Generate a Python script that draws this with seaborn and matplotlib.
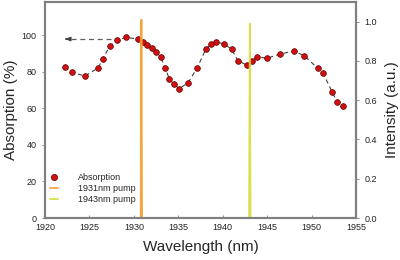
import numpy as np
import pandas as pd
import matplotlib
matplotlib.use("Agg")
import matplotlib.pyplot as plt
import seaborn as sns
from matplotlib.lines import Line2D

# absorption measurement (left axis)
wavelength = [1922.2, 1923.0, 1924.5, 1926.0, 1926.5, 1927.3, 1928.1, 1929.1, 1930.5,
              1931.0, 1931.5, 1932.0, 1932.5, 1933.0, 1933.5, 1934.0, 1934.5, 1935.1,
              1936.1, 1937.1, 1938.1, 1938.7, 1939.2, 1940.2, 1941.0, 1941.7, 1942.7,
              1943.3, 1943.9, 1945.0, 1946.4, 1948.0, 1949.2, 1950.7, 1951.3, 1952.3,
              1952.9, 1953.5]
absorption = [82.7, 79.6, 77.6, 82.1, 87.0, 94.0, 97.1, 98.7, 97.8,
              96.0, 94.3, 92.7, 90.9, 88.1, 82.1, 76.0, 73.1, 70.7,
              73.9, 81.8, 92.3, 95.0, 96.4, 95.0, 92.3, 86.0, 83.6,
              85.6, 88.1, 87.3, 89.5, 91.3, 88.6, 81.8, 79.1, 69.0,
              63.3, 61.3]

# pump spectra (right axis)
pump1931_wl = [1920.0, 1930.78, 1930.85, 1930.92, 1939.4]
pump1931_int = [0.0, 0.0, 1.01, 0.0, 0.0]
pump1943_wl = [1936.0, 1942.97, 1943.05, 1943.13, 1953.0]
pump1943_int = [0.0, 0.0, 0.99, 0.0, 0.0]

# dashed arrow pointing to the left axis
arrow_y = 97.8
arrow_from = 1927.4
arrow_to = 1922.2

df_abs = pd.DataFrame({"wl": wavelength, "abs": absorption})
df_p1 = pd.DataFrame({"wl": pump1931_wl, "I": pump1931_int})
df_p2 = pd.DataFrame({"wl": pump1943_wl, "I": pump1943_int})

sns.set_style("ticks")
plt.rcParams["font.family"] = ["Liberation Sans", "DejaVu Sans"]

red = "#d01010"
orange = "#f5a030"
yellow = "#d6dc3a"
spine_c = "#808080"

fig, ax = plt.subplots(figsize=(4, 2.6), dpi=100)
fig.subplots_adjust(left=0.1125, right=0.89, bottom=0.1615, top=0.992)

sns.lineplot(data=df_abs, x="wl", y="abs", ax=ax, color="#404040", lw=0.8,
             linestyle=(0, (4, 3)), zorder=2)
sns.scatterplot(data=df_abs, x="wl", y="abs", ax=ax, color=red, s=17,
                edgecolor="#600000", linewidth=0.5, zorder=3)

ax.plot([arrow_from, arrow_to + 0.5], [arrow_y, arrow_y], color="#606060",
        lw=0.9, linestyle=(0, (4, 3)))
ax.annotate("", xy=(arrow_to, arrow_y), xytext=(arrow_to + 0.6, arrow_y),
            arrowprops=dict(arrowstyle="-|>,head_length=0.35,head_width=0.13",
                            color="#404040", lw=0.8))

ax.set_xlim(1920, 1955)
ax.set_ylim(0, 118)
ax.set_xticks(range(1920, 1956, 5))
ax.set_yticks(range(0, 101, 20))
ax.set_xlabel("Wavelength (nm)", fontsize=11, labelpad=6)
ax.set_ylabel("Absorption (%)", fontsize=11, labelpad=3)

ax2 = ax.twinx()
sns.lineplot(data=df_p2, x="wl", y="I", ax=ax2, color=yellow, lw=1.3, alpha=0.9)
sns.lineplot(data=df_p1, x="wl", y="I", ax=ax2, color=orange, lw=1.3, alpha=0.95)
ax2.set_ylim(0, 1.1)
ax2.set_yticks([0.0, 0.2, 0.4, 0.6, 0.8, 1.0])
ax2.set_yticklabels(["0.0", "0.2", "0.4", "0.6", "0.8", "1.0"])
ax2.set_ylabel("Intensity (a.u.)", fontsize=11, labelpad=6)

for a in (ax, ax2):
    for s in a.spines.values():
        s.set_color(spine_c)
        s.set_linewidth(1.5)
    a.tick_params(labelsize=6.5, colors="#222222", length=2.5, width=0.6)
ax.tick_params(axis="x", direction="in", color=spine_c)
ax.tick_params(axis="y", direction="out", color=spine_c)
ax2.tick_params(axis="y", direction="out", color=spine_c)

handles = [
    Line2D([], [], marker="o", ls="none", color=red, markeredgecolor="#600000",
           markersize=4.5, markeredgewidth=0.5),
    Line2D([], [], color=orange, lw=1.2),
    Line2D([], [], color=yellow, lw=1.2),
]
ax2.legend(handles, ["Absorption", "1931nm pump", "1943nm pump"], loc="lower left",
           bbox_to_anchor=(-0.01, 0.025), frameon=False, fontsize=6.5,
           handlelength=0.9, handletextpad=2.2, labelspacing=0.25)

fig.savefig("out.png", dpi=100)
